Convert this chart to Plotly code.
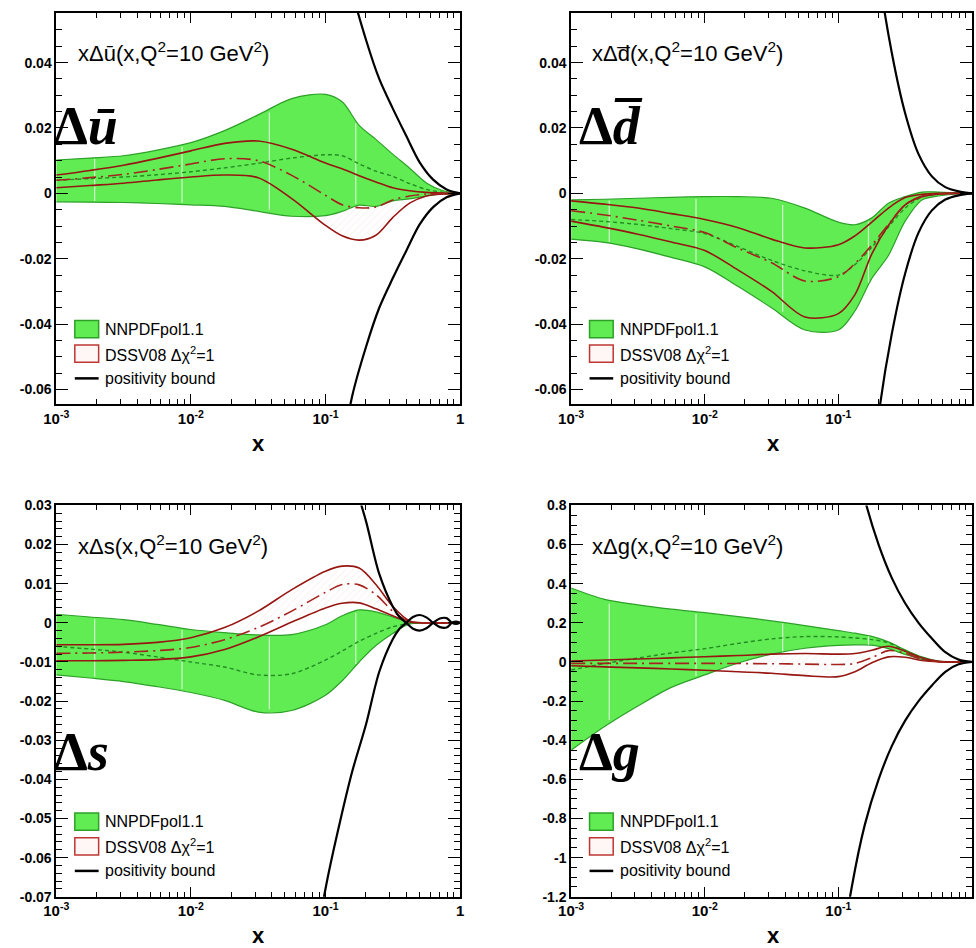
import numpy as np
import plotly.graph_objects as go

# ---------------- data ----------------
X = [0.001, 0.00178, 0.00316, 0.00562, 0.01, 0.0178, 0.0316, 0.0562, 0.1,
     0.133, 0.178, 0.237, 0.316, 0.422, 0.562, 0.75, 1.0]

# x Delta u-bar
UB_NN_HI = [0.0102, 0.0108, 0.0115, 0.0132, 0.0155, 0.0192, 0.0240, 0.0290, 0.0303, 0.0280, 0.0208, 0.0165, 0.0120, 0.0077, 0.0032, 0.0008, 0.0]
UB_NN_LO = [-0.0026, -0.0027, -0.0028, -0.0031, -0.0035, -0.0040, -0.0055, -0.0070, -0.0068, -0.0055, -0.0036, -0.0040, -0.0023, -0.0017, -0.0008, -0.0002, 0.0]
UB_NN_C = [0.0040, 0.0045, 0.0050, 0.0057, 0.0066, 0.0078, 0.0092, 0.0108, 0.0118, 0.0115, 0.0090, 0.0068, 0.0052, 0.0030, 0.0012, 0.0003, 0.0]
UB_DS_HI = [0.0056, 0.0070, 0.0086, 0.0107, 0.0130, 0.0153, 0.0160, 0.0135, 0.0093, 0.0075, 0.0054, 0.0035, 0.0017, 0.0008, 0.0003, 0.0001, 0.0]
UB_DS_C = [0.0040, 0.0048, 0.0058, 0.0073, 0.0090, 0.0106, 0.0100, 0.0055, -0.0006, -0.0035, -0.0044, -0.0042, -0.0020, -0.0008, -0.0002, 0.0, 0.0]
UB_DS_LO = [0.0017, 0.0024, 0.0031, 0.0041, 0.0050, 0.0056, 0.0048, -0.0016, -0.0098, -0.0130, -0.0143, -0.0128, -0.0074, -0.0030, -0.0008, -0.0002, 0.0]

# x Delta d-bar
DB_NN_HI = [-0.0020, -0.0018, -0.0015, -0.0012, -0.0010, -0.0010, -0.0015, -0.0045, -0.0088, -0.0096, -0.0075, -0.0030, -0.0010, 0.0004, 0.0004, 0.0002, 0.0]
DB_NN_LO = [-0.0140, -0.0150, -0.0170, -0.0196, -0.0225, -0.0285, -0.0350, -0.0418, -0.0418, -0.0360, -0.0260, -0.0190, -0.0085, -0.0020, -0.0008, -0.0002, 0.0]
DB_NN_C = [-0.0080, -0.0086, -0.0095, -0.0108, -0.0123, -0.0163, -0.0205, -0.0237, -0.0250, -0.0218, -0.0165, -0.0103, -0.0045, -0.0012, -0.0003, 0.0, 0.0]
DB_DS_HI = [-0.0023, -0.0033, -0.0045, -0.0062, -0.0080, -0.0105, -0.0140, -0.0167, -0.0157, -0.0130, -0.0088, -0.0045, -0.0013, -0.0003, 0.0, 0.0, 0.0]
DB_DS_C = [-0.0053, -0.0066, -0.0082, -0.0100, -0.0120, -0.0168, -0.0212, -0.0268, -0.0255, -0.0215, -0.0158, -0.0095, -0.0035, -0.0008, -0.0002, 0.0, 0.0]
DB_DS_LO = [-0.0085, -0.0104, -0.0125, -0.0149, -0.0175, -0.0235, -0.0300, -0.0378, -0.0368, -0.0310, -0.0185, -0.0098, -0.0035, -0.0010, -0.0002, 0.0, 0.0]

# x Delta s
S_NN_HI = [0.0022, 0.0015, 0.0008, -0.0004, -0.0017, -0.0025, -0.0031, -0.0030, -0.0005, 0.0018, 0.0033, 0.0028, 0.0015, 0.0002, 0.0, 0.0, 0.0]
S_NN_LO = [-0.0133, -0.0141, -0.0150, -0.0163, -0.0178, -0.0198, -0.0228, -0.0224, -0.0185, -0.0148, -0.0100, -0.0058, -0.0027, -0.0003, 0.0, 0.0, 0.0]
S_NN_C = [-0.0060, -0.0067, -0.0075, -0.0087, -0.0100, -0.0113, -0.0133, -0.0130, -0.0095, -0.0072, -0.0047, -0.0027, -0.0010, -0.0002, 0.0, 0.0, 0.0]
S_DS_HI = [-0.0056, -0.0056, -0.0055, -0.0050, -0.0038, -0.0012, 0.0030, 0.0085, 0.0132, 0.0145, 0.0140, 0.0098, 0.0042, 0.0005, 0.0, 0.0, 0.0]
S_DS_C = [-0.0078, -0.0077, -0.0075, -0.0071, -0.0063, -0.0043, -0.0012, 0.0030, 0.0078, 0.0098, 0.0097, 0.0072, 0.0030, 0.0003, 0.0, 0.0, 0.0]
S_DS_LO = [-0.0097, -0.0097, -0.0096, -0.0094, -0.0087, -0.0068, -0.0036, 0.0002, 0.0038, 0.0050, 0.0051, 0.0036, 0.0018, 0.0002, 0.0, 0.0, 0.0]

# x Delta g
G_NN_HI = [0.378, 0.320, 0.292, 0.270, 0.252, 0.232, 0.210, 0.186, 0.160, 0.147, 0.131, 0.103, 0.062, 0.026, 0.004, 0.0, 0.0]
G_NN_LO = [-0.451, -0.330, -0.225, -0.130, -0.066, -0.005, 0.040, 0.070, 0.085, 0.087, 0.086, 0.068, 0.038, 0.014, 0.002, 0.0, 0.0]
G_NN_C = [-0.041, -0.008, 0.020, 0.046, 0.068, 0.095, 0.118, 0.130, 0.128, 0.123, 0.114, 0.098, 0.057, 0.016, 0.002, 0.0, 0.0]
G_DS_HI = [0.005, 0.010, 0.015, 0.021, 0.027, 0.033, 0.040, 0.043, 0.040, 0.043, 0.060, 0.080, 0.055, 0.022, 0.003, 0.0, 0.0]
G_DS_C = [-0.007, -0.007, -0.007, -0.007, -0.007, -0.008, -0.009, -0.011, -0.013, -0.008, 0.022, 0.058, 0.045, 0.012, 0.002, 0.0, 0.0]
G_DS_LO = [-0.019, -0.025, -0.030, -0.036, -0.042, -0.050, -0.058, -0.070, -0.075, -0.050, -0.004, 0.026, 0.024, 0.008, 0.001, 0.0, 0.0]

# positivity bounds (+/-)
XB = [0.0316, 0.0562, 0.1, 0.126, 0.158, 0.2, 0.251, 0.316, 0.398, 0.501, 0.631, 0.794, 1.0]
UB_BOUND = [0.30, 0.20, 0.115, 0.085, 0.062, 0.047, 0.035, 0.026, 0.0176, 0.0095, 0.0042, 0.0012, 0.0]
DB_BOUND = [1.00, 0.60, 0.30, 0.18, 0.11, 0.068, 0.043, 0.0245, 0.012, 0.0052, 0.0019, 0.0006, 0.0]
G_BOUND = [5.0, 3.0, 1.6, 1.15, 0.83, 0.60, 0.43, 0.30, 0.20, 0.12, 0.05, 0.012, 0.0]
XB_S = [0.0316, 0.0562, 0.1, 0.126, 0.158, 0.2, 0.251, 0.316, 0.355, 0.398, 0.447, 0.501, 0.562, 0.631, 0.708, 0.794, 0.871, 0.933, 1.0]
S_BOUND = [0.18, 0.12, 0.068, 0.052, 0.038, 0.026, 0.0125, 0.0042, 0.0015, 0.0, -0.0015, -0.0020, -0.0014, 0.0, 0.0011, 0.0012, 0.0, -0.0003, 0.0]

# vertical seams of the NNPDF band
X_SEAMS = [0.00193, 0.0086, 0.0383, 0.168]

X_TICKS = [0.001, 0.01, 0.1, 1.0]
X_TICKTEXT = ["10<sup>-3</sup>", "10<sup>-2</sup>", "10<sup>-1</sup>", "1"]
X_TICKTEXT_R = ["10<sup>-3</sup>", "10<sup>-2</sup>", "10<sup>-1</sup>", ""]
X_MINOR = [m * d for d in [0.001, 0.01, 0.1] for m in range(2, 10)]

TOP_YTICKS = [-0.06, -0.04, -0.02, 0.0, 0.02, 0.04]
TOP_YTEXT = ["-0.06", "-0.04", "-0.02", "0", "0.02", "0.04"]
S_YTICKS = [-0.07, -0.06, -0.05, -0.04, -0.03, -0.02, -0.01, 0.0, 0.01, 0.02, 0.03]
S_YTEXT = ["-0.07", "-0.06", "-0.05", "-0.04", "-0.03", "-0.02", "-0.01", "0", "0.01", "0.02", "0.03"]
G_YTICKS = [-1.2, -1.0, -0.8, -0.6, -0.4, -0.2, 0.0, 0.2, 0.4, 0.6, 0.8]
G_YTEXT = ["-1.2", "-1", "-0.8", "-0.6", "-0.4", "-0.2", "0", "0.2", "0.4", "0.6", "0.8"]

TITLES = ["x\u0394\u016b(x,Q<sup>2</sup>=10 GeV<sup>2</sup>)",
          "x\u0394d\u0305(x,Q<sup>2</sup>=10 GeV<sup>2</sup>)",
          "x\u0394s(x,Q<sup>2</sup>=10 GeV<sup>2</sup>)",
          "x\u0394g(x,Q<sup>2</sup>=10 GeV<sup>2</sup>)"]
BIG = ["<b>\u0394<i>\u016b</i></b>", "<b>\u0394<i>d\u0305</i></b>", "<b>\u0394<i>s</i></b>", "<b>\u0394<i>g</i></b>"]
LEG_TEXT = ["NNPDFpol1.1", "DSSV08 \u0394\u03c7<sup>2</sup>=1", "positivity bound"]

# ---------------- styles ----------------
GREEN_FILL = "rgb(98,236,84)"
GREEN_EDGE = "rgb(45,160,40)"
GREEN_DASH = "rgb(35,140,35)"
RED = "rgb(150,22,18)"
RED_BOX = "rgb(190,55,50)"
FONT = "Liberation Sans"

panels = [
    dict(nn=(UB_NN_LO, UB_NN_HI, UB_NN_C), ds=(UB_DS_LO, UB_DS_HI, UB_DS_C), xb=XB, bound=UB_BOUND,
         yr=[-0.0645, 0.0552], yt=TOP_YTICKS, ytt=TOP_YTEXT, ymin=0.005,
         xd=[44 / 976, 455 / 976], yd=[1 - 403 / 948, 1 - 5 / 948], right=False),
    dict(nn=(DB_NN_LO, DB_NN_HI, DB_NN_C), ds=(DB_DS_LO, DB_DS_HI, DB_DS_C), xb=XB, bound=DB_BOUND,
         yr=[-0.0645, 0.0552], yt=TOP_YTICKS, ytt=TOP_YTEXT, ymin=0.005,
         xd=[568 / 976, 1.0], yd=[1 - 403 / 948, 1 - 5 / 948], right=True),
    dict(nn=(S_NN_LO, S_NN_HI, S_NN_C), ds=(S_DS_LO, S_DS_HI, S_DS_C), xb=XB_S, bound=S_BOUND,
         yr=[-0.07, 0.03], yt=S_YTICKS, ytt=S_YTEXT, ymin=0.002,
         xd=[44 / 976, 455 / 976], yd=[1 - 904 / 948, 1 - 506 / 948], right=False),
    dict(nn=(G_NN_LO, G_NN_HI, G_NN_C), ds=(G_DS_LO, G_DS_HI, G_DS_C), xb=XB, bound=G_BOUND,
         yr=[-1.2, 0.8], yt=G_YTICKS, ytt=G_YTEXT, ymin=0.05,
         xd=[568 / 976, 1.0], yd=[1 - 904 / 948, 1 - 506 / 948], right=True),
]

fig = go.Figure()
annotations = []
shapes = []
lx = np.log10(X)

for i, p in enumerate(panels):
    n = "" if i == 0 else str(i + 1)
    xa, ya = "x" + n, "y" + n
    nn_lo, nn_hi, nn_c = p["nn"]
    ds_lo, ds_hi, ds_c = p["ds"]
    common = dict(xaxis=xa, yaxis=ya, showlegend=False, hoverinfo="skip")
    spl = dict(shape="spline", smoothing=0.9)

    # DSSV hatched band
    fig.add_trace(go.Scatter(x=X, y=ds_lo, mode="lines", line=dict(width=0, **spl), **common))
    fig.add_trace(go.Scatter(x=X, y=ds_hi, mode="lines", line=dict(width=0, **spl), fill="tonexty",
                             fillcolor="rgba(0,0,0,0)",
                             fillpattern=dict(shape="/", fgcolor="rgba(200,90,90,0.35)",
                                              bgcolor="rgba(255,255,255,0)", size=5, solidity=0.12),
                             **common))
    # NNPDF green band
    fig.add_trace(go.Scatter(x=X, y=nn_lo, mode="lines", line=dict(color=GREEN_EDGE, width=1.2, **spl), **common))
    fig.add_trace(go.Scatter(x=X, y=nn_hi, mode="lines", line=dict(color=GREEN_EDGE, width=1.2, **spl),
                             fill="tonexty", fillcolor=GREEN_FILL, **common))
    # seams
    sx, sy = [], []
    for xs in X_SEAMS:
        lo = float(np.interp(np.log10(xs), lx, nn_lo))
        hi = float(np.interp(np.log10(xs), lx, nn_hi))
        d = 0.03 * (hi - lo)
        sx += [xs, xs, None]
        sy += [lo + d, hi - d, None]
    fig.add_trace(go.Scatter(x=sx, y=sy, mode="lines", line=dict(color="rgba(255,255,255,0.7)", width=1.2),
                             **common))
    # NNPDF central
    fig.add_trace(go.Scatter(x=X, y=nn_c, mode="lines",
                             line=dict(color=GREEN_DASH, width=1.4, dash="4px,3px", **spl), **common))
    # DSSV lines
    fig.add_trace(go.Scatter(x=X, y=ds_lo, mode="lines", line=dict(color=RED, width=1.6, **spl), **common))
    fig.add_trace(go.Scatter(x=X, y=ds_hi, mode="lines", line=dict(color=RED, width=1.6, **spl), **common))
    fig.add_trace(go.Scatter(x=X, y=ds_c, mode="lines",
                             line=dict(color="rgb(165,35,30)", width=1.6, dash="14px,5px,2px,5px", **spl), **common))
    # positivity bounds
    b = p["bound"]
    fig.add_trace(go.Scatter(x=p["xb"], y=b, mode="lines", line=dict(color="black", width=2.2, **spl), **common))
    fig.add_trace(go.Scatter(x=p["xb"], y=[-v for v in b], mode="lines",
                             line=dict(color="black", width=2.2, **spl), **common))

    fig.update_layout(**{
        ("xaxis" + n): dict(
            type="log", range=[-3, 0], domain=p["xd"], anchor=ya,
            showline=True, linecolor="black", linewidth=1.5, mirror="ticks",
            ticks="inside", ticklen=10, tickwidth=1.2, tickcolor="black",
            tickmode="array", tickvals=X_TICKS, ticktext=X_TICKTEXT_R if p["right"] else X_TICKTEXT,
            tickfont=dict(family=FONT, size=15, color="black", weight="bold"),
            showgrid=False, zeroline=False,
            minor=dict(tickmode="array", tickvals=X_MINOR, ticks="inside", ticklen=5,
                       tickwidth=1, tickcolor="black", showgrid=False),
        ),
        ("yaxis" + n): dict(
            range=p["yr"], domain=p["yd"], anchor=xa,
            showline=True, linecolor="black", linewidth=1.5, mirror="ticks",
            ticks="inside", ticklen=12, tickwidth=1.2, tickcolor="black",
            tickmode="array", tickvals=p["yt"], ticktext=p["ytt"],
            tickfont=dict(family=FONT, size=14, color="black", weight="bold"),
            showgrid=False, zeroline=False,
            minor=dict(dtick=p["ymin"], ticks="inside", ticklen=6, tickwidth=1,
                       tickcolor="black", showgrid=False),
        ),
    })

    xd, yd = xa + " domain", ya + " domain"
    # in-plot title
    annotations.append(dict(text=TITLES[i], xref=xd, yref=yd, x=0.048, y=0.90, xanchor="left",
                            yanchor="middle", showarrow=False,
                            font=dict(family=FONT, size=22, color="black")))
    # big label
    big_y = 0.71 if i < 2 else 0.37
    big_x = 0.0 if i % 2 == 0 else 0.025
    annotations.append(dict(text=BIG[i], xref=xd, yref=yd, x=big_x, y=big_y, xanchor="left", xshift=-4,
                            yanchor="middle", showarrow=False,
                            font=dict(family="Liberation Serif", size=54, color="black")))
    # x-axis title
    annotations.append(dict(text="<b>x</b>", xref=xd, yref=yd, x=0.5 if not p["right"] else 0.5 * 411 / 408,
                            y=0, yshift=-39, xanchor="center", yanchor="middle", showarrow=False,
                            font=dict(family=FONT, size=22, color="black")))
    # legend
    rows = [0.192, 0.129, 0.066]
    bx0, bx1, bh = 0.046, 0.105, 0.022
    shapes.append(dict(type="rect", xref=xd, yref=yd, x0=bx0, x1=bx1, y0=rows[0] - bh, y1=rows[0] + bh,
                       fillcolor=GREEN_FILL, line=dict(color=GREEN_EDGE, width=1.5)))
    shapes.append(dict(type="rect", xref=xd, yref=yd, x0=bx0, x1=bx1, y0=rows[1] - bh, y1=rows[1] + bh,
                       fillcolor="rgba(255,240,240,0.6)", line=dict(color=RED_BOX, width=1.5)))
    shapes.append(dict(type="line", xref=xd, yref=yd, x0=bx0, x1=bx1, y0=rows[2], y1=rows[2],
                       line=dict(color="black", width=2.5)))
    for r, t in zip(rows, LEG_TEXT):
        annotations.append(dict(text=t, xref=xd, yref=yd, x=0.117, y=r, xanchor="left", yanchor="middle",
                                showarrow=False, font=dict(family=FONT, size=16, color="black")))

fig.update_layout(
    width=976, height=948, margin=dict(l=0, r=0, t=0, b=0),
    paper_bgcolor="white", plot_bgcolor="white",
    annotations=annotations, shapes=shapes, showlegend=False,
)

fig.write_html("out.html")
